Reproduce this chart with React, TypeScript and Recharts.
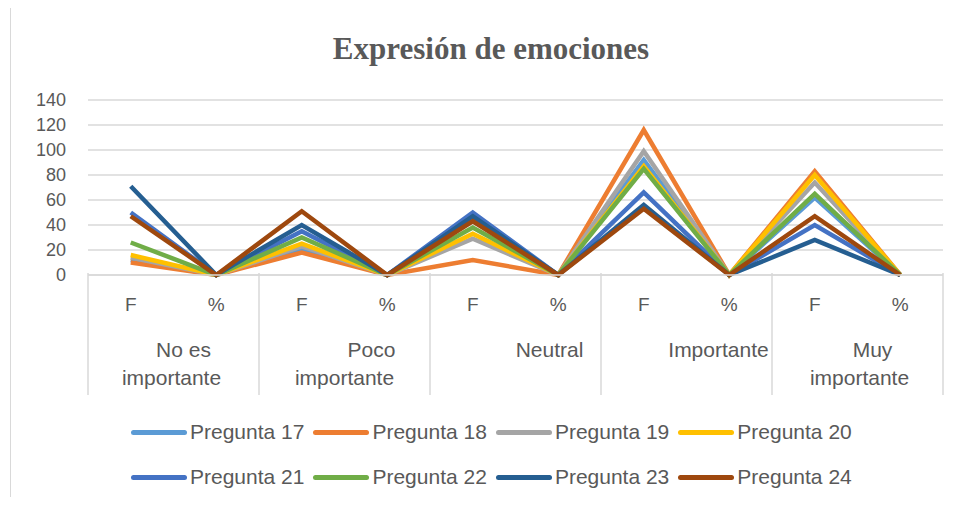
import React from "react";
import { LineChart, Line, XAxis, YAxis, CartesianGrid, Legend } from "recharts";

// categorias (dos niveles)
const groups = ["No es\nimportante", "Poco\nimportante", "Neutral", "Importante", "Muy\nimportante"];
const subCats = ["F", "%"];
const yTicks = [0, 20, 40, 60, 80, 100, 120, 140];

// valores por pregunta: F y % de cada grupo
const p17 = [12, 0, 21, 0, 45, 0, 92, 0, 62, 0];
const p18 = [10, 0, 18, 0, 12, 0, 116, 0, 83, 0];
const p19 = [14, 0, 23, 0, 29, 0, 99, 0, 74, 0];
const p20 = [16, 0, 25, 0, 33, 0, 87, 0, 80, 0];
const p21 = [50, 0, 35, 0, 50, 0, 66, 0, 40, 0];
const p22 = [26, 0, 30, 0, 38, 0, 85, 0, 65, 0];
const p23 = [71, 0, 40, 0, 47, 0, 56, 0, 28, 0];
const p24 = [47, 0, 51, 0, 43, 0, 53, 0, 47, 0];

const series = [
  { name: "Pregunta 17", values: p17, color: "#5B9BD5" },
  { name: "Pregunta 18", values: p18, color: "#ED7D31" },
  { name: "Pregunta 19", values: p19, color: "#A5A5A5" },
  { name: "Pregunta 20", values: p20, color: "#FFC000" },
  { name: "Pregunta 21", values: p21, color: "#4472C4" },
  { name: "Pregunta 22", values: p22, color: "#70AD47" },
  { name: "Pregunta 23", values: p23, color: "#255E91" },
  { name: "Pregunta 24", values: p24, color: "#9E480E" },
];

const data = groups.flatMap((g, gi) =>
  subCats.map((s, si) => {
    const row: any = { key: gi + "-" + s, sub: s, group: g };
    const idx = gi * subCats.length + si;
    series.forEach((ser) => (row[ser.name] = ser.values[idx]));
    return row;
  })
);

const W = 954;
const H = 505;
const PLOT_LEFT = 88;
const PLOT_RIGHT = 943;
const BAND = (PLOT_RIGHT - PLOT_LEFT) / data.length;
const FONT = "'Liberation Sans', Arial, sans-serif";
const TXT = "#595959";
const GRID = "#d9d9d9";
// ajuste horizontal de cada linea de la etiqueta de grupo (como lo deja Excel)
const lineShift = [[10, -2], [27, 0], [34], [32], [15, 2]];

function CatTick(props: any) {
  const { x, y, payload } = props;
  const i = payload.index;
  const row = data[i];
  const isFirst = i % 2 === 0;
  const gi = Math.floor(i / 2);
  const lines = String(row.group).split("\n");
  const gx = x + BAND / 2;
  const top = y - 10;
  return (
    <g>
      <text x={x} y={top + 38} textAnchor="middle" fill={TXT} fontSize={19} fontFamily={FONT}>
        {row.sub}
      </text>
      {isFirst && (
        <>
          <line x1={x - BAND / 2} x2={x - BAND / 2} y1={top} y2={top + 122} stroke={GRID} strokeWidth={1.5} />
          {lines.map((l, li) => (
            <text
              key={li}
              x={gx + lineShift[gi][li]}
              y={top + 84 + li * 28}
              textAnchor="middle"
              fill={TXT}
              fontSize={21}
              fontFamily={FONT}
            >
              {l}
            </text>
          ))}
        </>
      )}
      {i === data.length - 1 && (
        <line x1={x + BAND / 2} x2={x + BAND / 2} y1={top} y2={top + 122} stroke={GRID} strokeWidth={1.5} />
      )}
    </g>
  );
}

function LegendBox() {
  const rows = [series.slice(0, 4), series.slice(4)];
  return (
    <div style={{ width: W, height: 105, position: "relative" }}>
      {rows.map((r, ri) => (
        <div
          key={ri}
          style={{
            position: "absolute",
            left: 131,
            top: 20 + ri * 45,
            display: "flex",
            alignItems: "center",
            fontFamily: FONT,
            fontSize: 21,
            color: TXT,
          }}
        >
          {r.map((s) => (
            <div key={s.name} style={{ display: "flex", alignItems: "center", marginRight: 9 }}>
              <span
                style={{ display: "inline-block", width: 56, height: 5, borderRadius: 3, background: s.color, marginRight: 3 }}
              />
              <span>{s.name}</span>
            </div>
          ))}
        </div>
      ))}
    </div>
  );
}

export default function App() {
  return (
    <div style={{ position: "relative", width: W, height: H, margin: -8, background: "#fff" }}>
      <div
        style={{
          position: "absolute",
          left: 10,
          top: 0,
          width: W - 11,
          height: H - 1,
          border: "1px solid " + GRID,
          borderRight: "none",
          borderBottom: "none",
        }}
      />
      <div
        style={{
          position: "absolute",
          top: 31,
          left: 0,
          width: 982,
          textAlign: "center",
          fontFamily: "'Liberation Serif', 'Times New Roman', serif",
          fontWeight: "bold",
          fontSize: 31,
          color: TXT,
        }}
      >
        Expresión de emociones
      </div>
      <div style={{ position: "absolute", left: 0, top: 0 }}>
        <LineChart width={W} height={H} data={data} margin={{ top: 100, right: W - PLOT_RIGHT, bottom: 0, left: 30 }}>
          <CartesianGrid vertical={false} stroke={GRID} strokeWidth={1.5} />
          <XAxis
            dataKey="key"
            interval={0}
            height={125}
            padding={{ left: BAND / 2, right: BAND / 2 }}
            tick={<CatTick />}
            tickLine={false}
            axisLine={{ stroke: GRID, strokeWidth: 1.5 }}
          />
          <YAxis
            width={PLOT_LEFT - 30}
            domain={[0, 140]}
            ticks={yTicks}
            tick={{ fill: TXT, fontSize: 18, fontFamily: FONT, dx: -14 }}
            tickLine={false}
            axisLine={false}
            interval={0}
          />
          <Legend verticalAlign="bottom" content={<LegendBox />} wrapperStyle={{ left: 0, bottom: 0, width: W }} />
          {series.map((s) => (
            <Line
              key={s.name}
              dataKey={s.name}
              stroke={s.color}
              strokeWidth={4.5}
              dot={false}
              type="linear"
              isAnimationActive={false}
            />
          ))}
        </LineChart>
      </div>
    </div>
  );
}
